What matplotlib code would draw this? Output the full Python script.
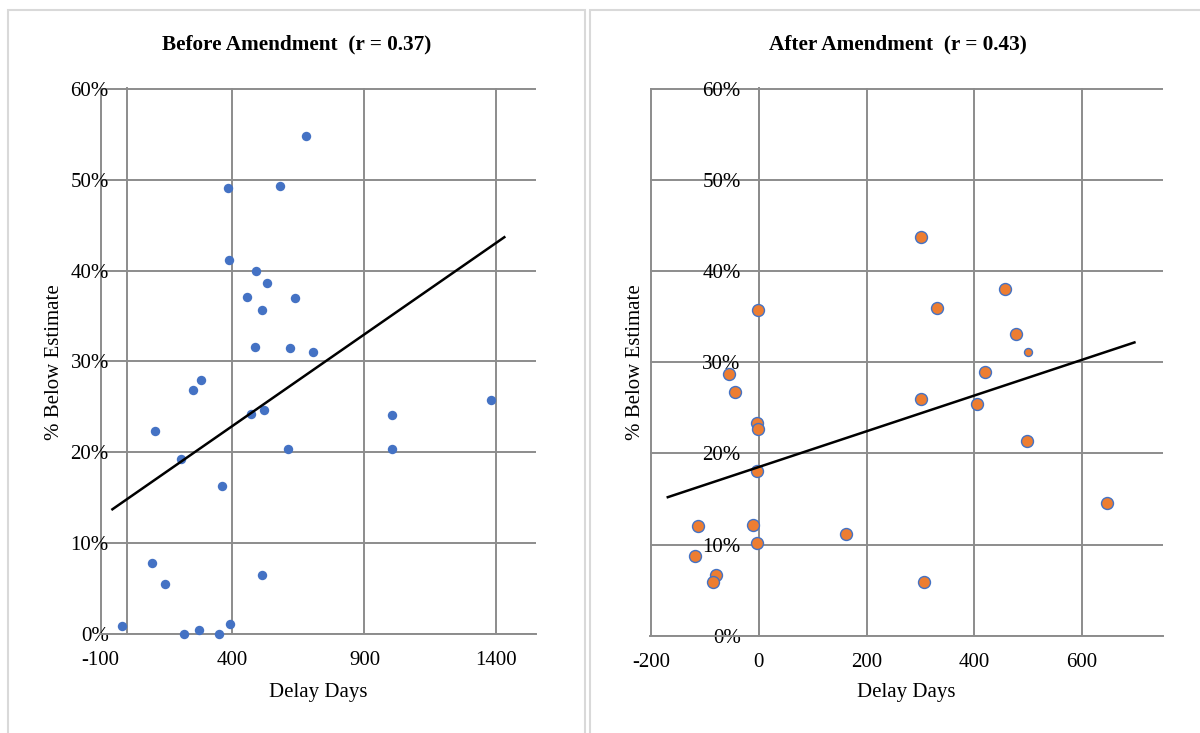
import matplotlib
matplotlib.use("Agg")
import matplotlib.pyplot as plt
from matplotlib.patches import Rectangle

plt.rcParams['font.family'] = ['Liberation Serif', 'DejaVu Serif']
plt.rcParams['axes.unicode_minus'] = False

# ---- Data ----
before_days = [680, 383, 580, 386, 488, 532, 454, 635, 512, 485, 617, 706,
               279, 250, 1380, 521, 470, 1003, 105, 609, 1003, 205, 359,
               95, 145, 512, -20, 215, 275, 350, 389]
before_pct = [54.9, 49.1, 49.3, 41.2, 40.0, 38.6, 37.1, 37.0, 35.7, 31.6, 31.5, 31.0,
              28.0, 26.9, 25.7, 24.7, 24.2, 24.1, 22.3, 20.4, 20.4, 19.2, 16.3,
              7.8, 5.5, 6.5, 0.8, 0.0, 0.4, 0.0, 1.1]
before_trend_x = [-55, 1430]
before_trend_y = [13.7, 43.7]

after_days = [301, -2, 330, 457, 477, -56, 420, -44, 301, 405, -3, -2,
              498, -4, 646, -113, -10, 161, -4, -118, -79, -85, 307]
after_pct = [43.8, 35.8, 36.0, 38.1, 33.1, 28.7, 28.9, 26.8, 26.0, 25.4, 23.4, 22.7,
             21.4, 18.1, 14.6, 12.0, 12.1, 11.2, 10.2, 8.7, 6.6, 5.9, 5.9]
after_small_days = [500]
after_small_pct = [31.2]
after_trend_x = [-169, 697]
after_trend_y = [15.2, 32.2]

y_ticks = [0, 10, 20, 30, 40, 50, 60]
before_xticks = [-100, 400, 900, 1400]
after_xticks = [-200, 0, 200, 400, 600]

BLUE = "#4472C4"
ORANGE = "#ED7D31"
GRID = "#8c8c8c"

fig = plt.figure(figsize=(12, 7.33), dpi=100)

# chart borders (Excel style)
fig.patches.append(Rectangle((8 / 1200, -0.05), 577 / 1200, 1.05 - 10 / 733,
                             transform=fig.transFigure, fill=False,
                             edgecolor="#d9d9d9", linewidth=1.5))
fig.patches.append(Rectangle((590 / 1200, -0.05), 620 / 1200, 1.05 - 10 / 733,
                             transform=fig.transFigure, fill=False,
                             edgecolor="#d9d9d9", linewidth=1.5))

ax1 = fig.add_axes([100 / 1200, 1 - 634 / 733, 436 / 1200, 546 / 733])
ax2 = fig.add_axes([650 / 1200, 1 - 636 / 733, 513 / 1200, 548 / 733])


def style_axis(ax, xticks, xlim):
    ax.set_xlim(*xlim)
    ax.set_ylim(-0.05, 60.15)
    ax.set_xticks(xticks)
    ax.set_yticks(y_ticks)
    ax.set_yticklabels([f"{t}%" for t in y_ticks])
    ax.grid(True, color=GRID, linewidth=1.4)
    ax.set_axisbelow(True)
    for s in ["top", "right"]:
        ax.spines[s].set_visible(False)
    ax.spines["left"].set_position(("data", 0))
    ax.spines["left"].set_color(GRID)
    ax.spines["left"].set_linewidth(1.4)
    ax.spines["bottom"].set_color(GRID)
    ax.spines["bottom"].set_linewidth(1.4)
    ax.tick_params(axis="both", length=0, labelsize=15, colors="black")
    ax.tick_params(axis="y", pad=13)
    ax.tick_params(axis="x", pad=12)


# ---- Before ----
style_axis(ax1, before_xticks, (-102, 1550))
ax1.scatter(before_days, before_pct, s=46, color=BLUE, linewidths=0, zorder=3,
            clip_on=False)
ax1.plot(before_trend_x, before_trend_y, color="black", linewidth=1.8, zorder=4)

# ---- After ----
style_axis(ax2, after_xticks, (-202, 750))
ax2.scatter(after_days, after_pct, s=74, color=ORANGE, edgecolors=BLUE,
            linewidths=1.0, zorder=3, clip_on=False)
ax2.scatter(after_small_days, after_small_pct, s=33, color=ORANGE, edgecolors=BLUE,
            linewidths=1.0, zorder=3, clip_on=False)
ax2.plot(after_trend_x, after_trend_y, color="black", linewidth=1.8, zorder=4)

# ---- Titles & labels ----
fig.text(297 / 1200, 1 - 44 / 733, "Before Amendment  (r = 0.37)",
         ha="center", va="center", fontsize=15.3, fontweight="bold")
fig.text(898 / 1200, 1 - 44 / 733, "After Amendment  (r = 0.43)",
         ha="center", va="center", fontsize=15.3, fontweight="bold")
fig.text(318 / 1200, 1 - 693 / 733, "Delay Days", ha="center", va="center", fontsize=15)
fig.text(906 / 1200, 1 - 693 / 733, "Delay Days", ha="center", va="center", fontsize=15)
fig.text(55 / 1200, 1 - 362 / 733, "% Below Estimate", ha="center", va="center",
         rotation=90, fontsize=15)
fig.text(636 / 1200, 1 - 362 / 733, "% Below Estimate", ha="center", va="center",
         rotation=90, fontsize=15)

fig.savefig("out.png", dpi=100)
